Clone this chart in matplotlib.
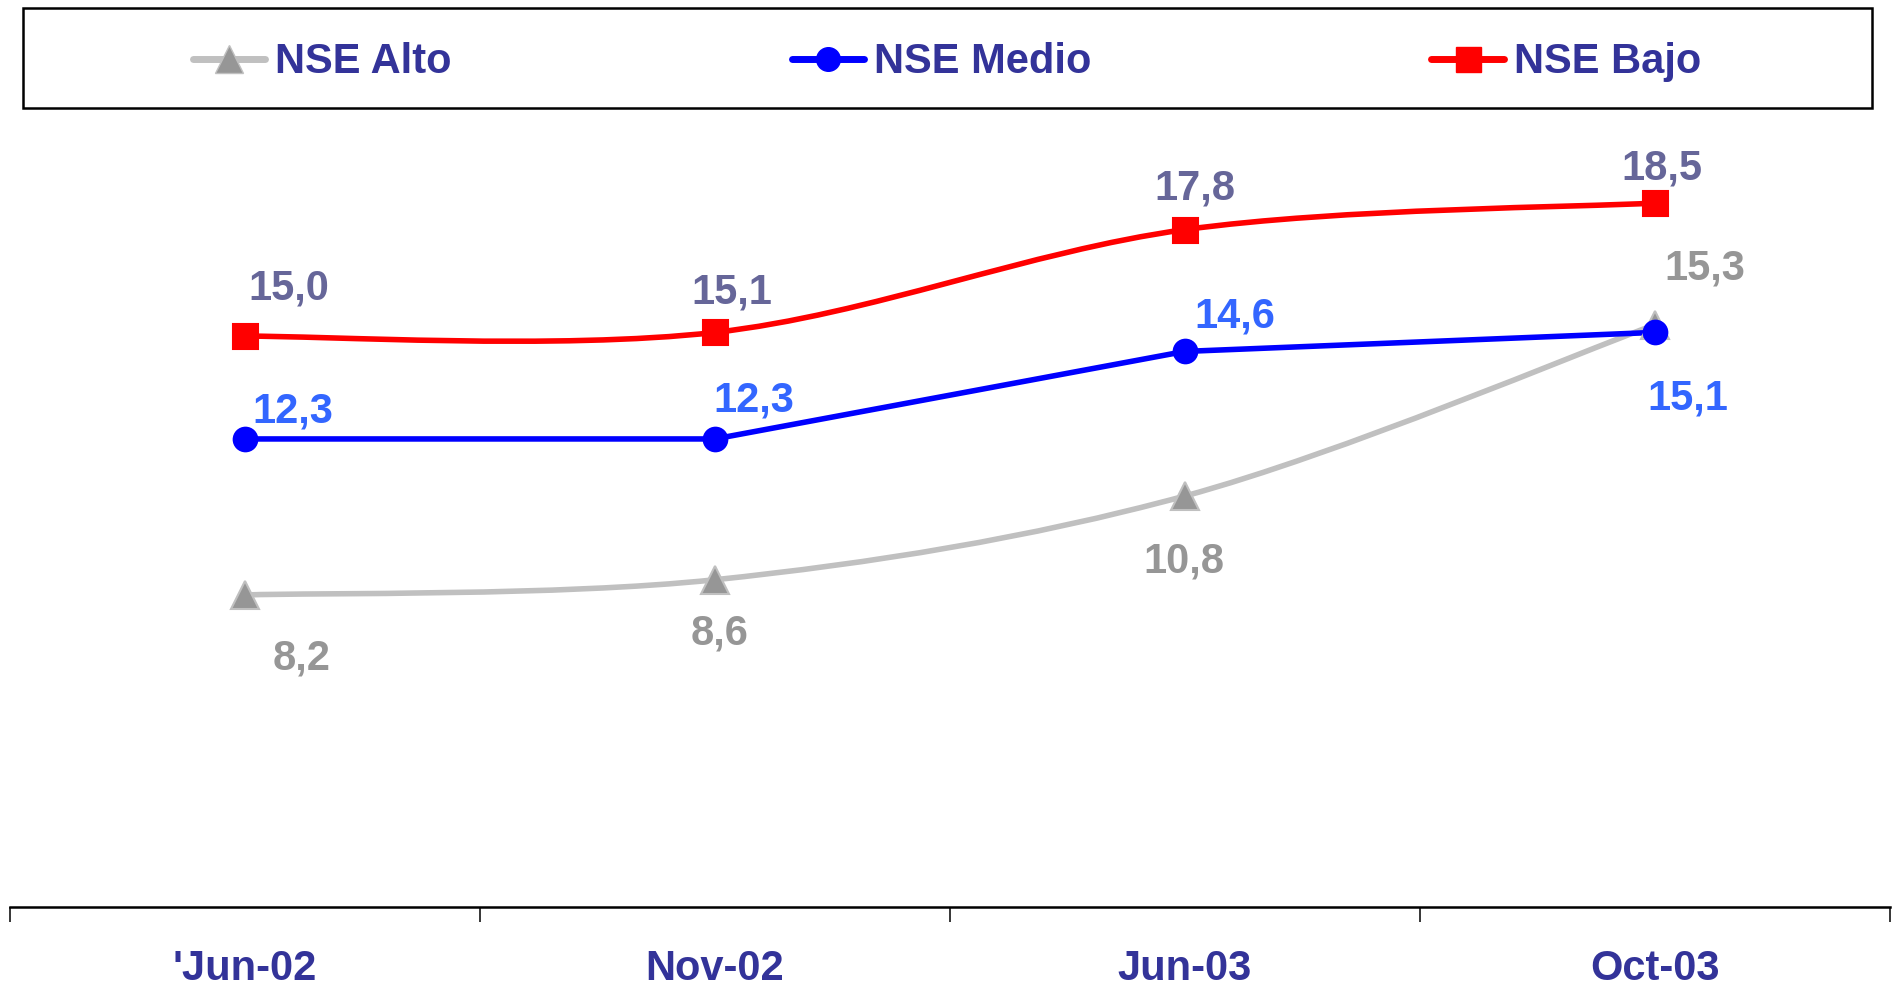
"""NSE line chart: three socio-economic levels over four survey waves."""

import matplotlib

matplotlib.use("Agg")
import matplotlib.pyplot as plt
import numpy as np
from matplotlib.lines import Line2D
from matplotlib.patches import PathPatch, Rectangle
from matplotlib.path import Path

plt.rcParams["font.family"] = ["Liberation Sans", "DejaVu Sans"]
plt.rcParams["font.weight"] = "bold"

periods = ["'Jun-02", "Nov-02", "Jun-03", "Oct-03"]
alto = [8.2, 8.6, 10.8, 15.3]
medio = [12.3, 12.3, 14.6, 15.1]
bajo = [15.0, 15.1, 17.8, 18.5]

# label offsets in pixels (dx, dy), tuned by eye against the reference
alto_offsets = [(57, -64), (5, -54), (-1, -65), (50, 56)]
medio_offsets = [(48, 27), (39, 38), (50, 35), (33, -66)]
bajo_offsets = [(44, 48), (17, 40), (10, 41), (7, 35)]

TEXT_BLUE = "#333399"
FS = 30


def line_path(xs, ys, smooth=True):
    """Bezier through the points like Excel's smoothed line, or plain segments."""
    pts = np.column_stack([xs, ys]).astype(float)
    if not smooth:
        return Path(pts)
    ext = np.vstack([pts[0], pts, pts[-1]])
    verts = [pts[0]]
    codes = [Path.MOVETO]
    for i in range(len(pts) - 1):
        p0, p1, p2, p3 = ext[i], ext[i + 1], ext[i + 2], ext[i + 3]
        c1 = p1 + (p2 - p0) / 6
        c2 = p2 - (p3 - p1) / 6
        verts += [c1, c2, p2]
        codes += [Path.CURVE4] * 3
    return Path(verts, codes)


fig = plt.figure(figsize=(18.96, 9.86), dpi=100)
ax = fig.add_axes([0.0051, 0.0801, 0.9917, 0.7719])

x = np.arange(len(periods))
series = [
    ("NSE Alto", alto, True, "#C0C0C0", "^", "#969696", "#C0C0C0", 20, "#969696", alto_offsets),
    ("NSE Medio", medio, False, "#0000FF", "o", "#0000FF", "#0000FF", 17, "#3366FF", medio_offsets),
    ("NSE Bajo", bajo, True, "#FF0000", "s", "#FF0000", "#FF0000", 18, "#666699", bajo_offsets),
]

handles = []
for name, vals, smooth, lc, mk, mfc, mec, ms, tc, offs in series:
    patch = PathPatch(line_path(x, vals, smooth), facecolor="none", edgecolor=lc,
                      linewidth=4, capstyle="round", joinstyle="round")
    ax.add_patch(patch)
    ax.plot(x, vals, linestyle="none", marker=mk, markersize=ms,
            markerfacecolor=mfc, markeredgecolor=mec, markeredgewidth=1.5)
    for xi, v, (dx, dy) in zip(x, vals, offs):
        ax.annotate(f"{v:.1f}".replace(".", ","), (xi, v), xytext=(dx, dy),
                    textcoords="offset pixels", ha="center", va="center",
                    fontsize=FS, fontweight="bold", color=tc)
    handles.append(Line2D([], [], color=lc, linewidth=5, marker=mk,
                          markersize=ms, markerfacecolor=mfc,
                          markeredgecolor=mec, solid_capstyle="round", label=name))

ax.set_xlim(-0.5, 3.5)
ax.set_ylim(0, 20)
ax.set_yticks([])
for side in ("left", "right", "top"):
    ax.spines[side].set_visible(False)
ax.spines["bottom"].set_linewidth(1.8)

ax.set_xticks(x)
ax.set_xticklabels(periods, fontsize=FS, fontweight="bold", color=TEXT_BLUE)
ax.tick_params(axis="x", which="major", length=0, pad=30)
ax.set_xticks(np.arange(-0.5, 4.0, 1.0), minor=True)
ax.tick_params(axis="x", which="minor", length=11, width=1.1, direction="out", color="black")

# legend frame drawn on its own so the padding can differ from the entry spacing
fig.patches.append(Rectangle((0.0121, 0.8905), 0.9752, 0.1014, transform=fig.transFigure,
                             facecolor="none", edgecolor="black", linewidth=1.8))
fig.legend(handles=handles, loc="center", bbox_to_anchor=(0.4995, 0.937), ncol=3,
           frameon=False, fontsize=FS, handlelength=1.75, handletextpad=0.24,
           columnspacing=8.15, labelcolor=TEXT_BLUE, prop={"weight": "bold", "size": FS})

fig.savefig("out.png", dpi=100)
plt.close(fig)
